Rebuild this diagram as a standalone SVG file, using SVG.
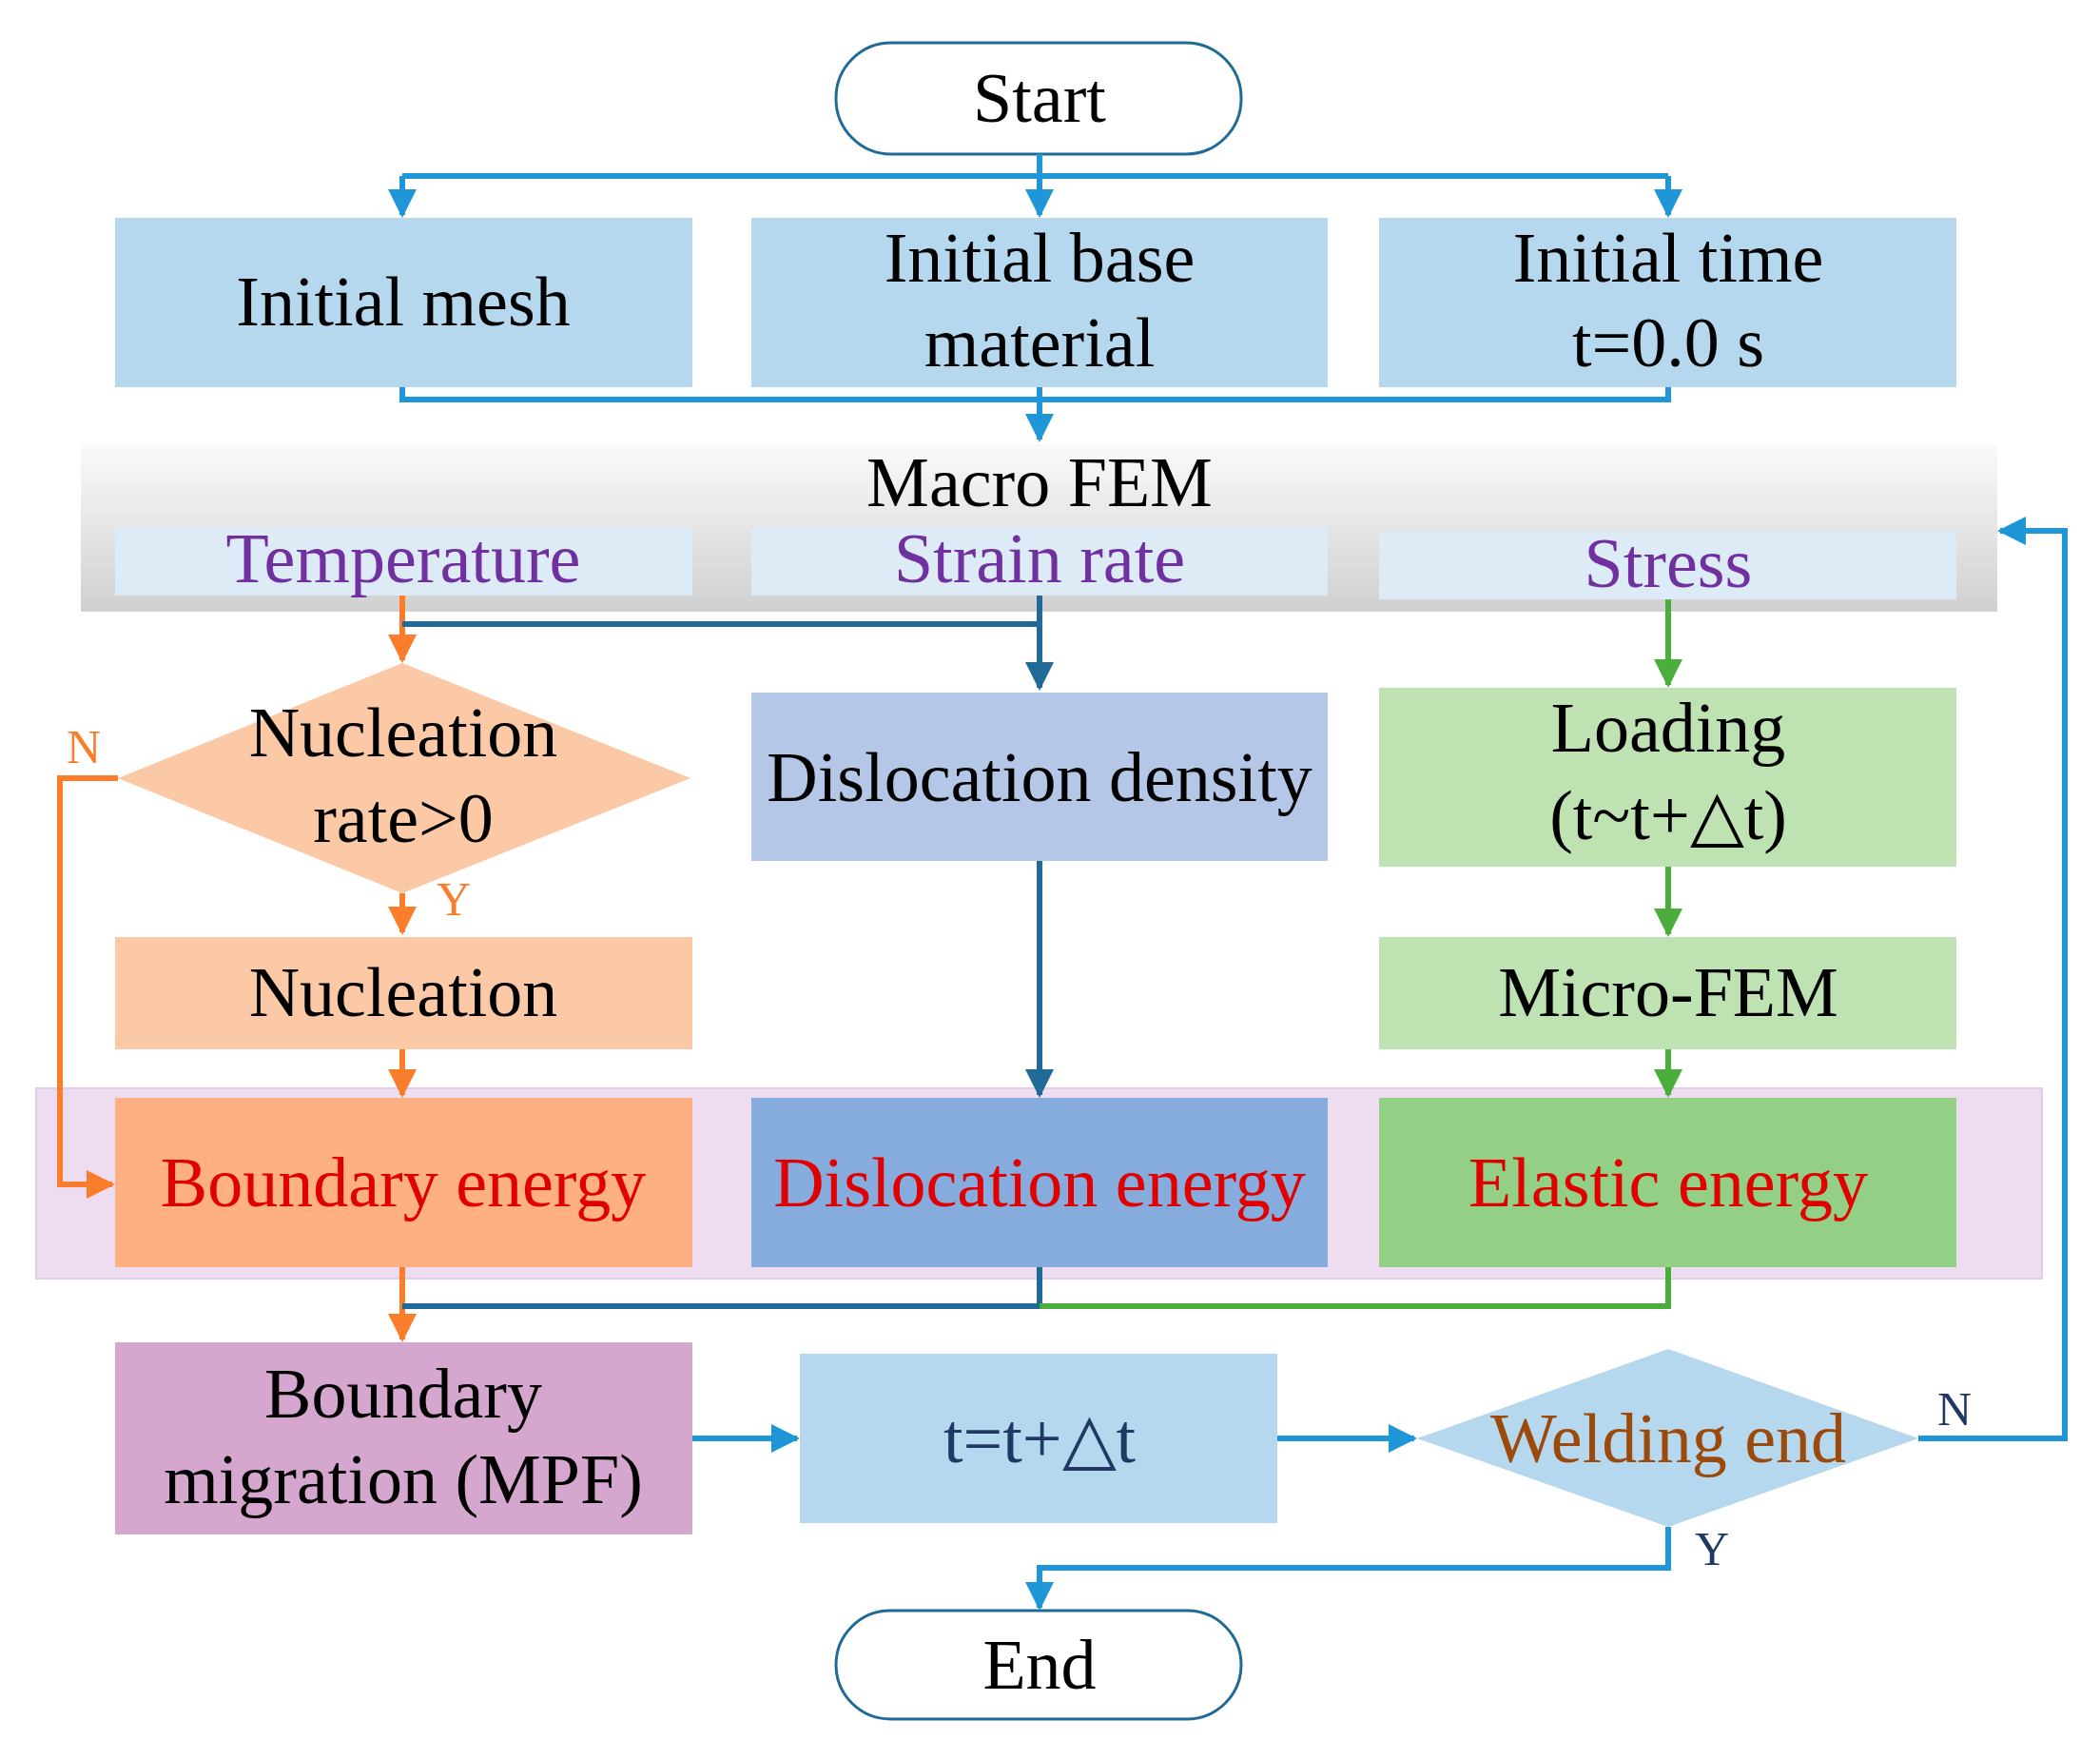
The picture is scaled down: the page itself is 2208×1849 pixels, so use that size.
<svg xmlns="http://www.w3.org/2000/svg" width="2208" height="1849" viewBox="0 0 2208 1849">
<style>
text{font-family:"Liberation Serif",serif;font-size:74px;text-anchor:middle;fill:#000}
.b{stroke:#1E96D8;stroke-width:6;fill:none}
.d{stroke:#1F6A96;stroke-width:6;fill:none}
.o{stroke:#F97D2A;stroke-width:6;fill:none}
.g{stroke:#4BAE3C;stroke-width:6;fill:none}
.lb{fill:#B5D8EE}
text.p{fill:#7030A0}
text.r{fill:#E00000}
text.n{fill:#1F3864}
text.w{fill:#9C4A0C}
text.lo{fill:#F97D2A;font-size:50px}
text.ln{fill:#1F3864;font-size:50px}
</style>
<defs>
<marker id="ab" viewBox="0 0 10 10" refX="9" refY="5" markerWidth="5" markerHeight="5" orient="auto"><path d="M0 0L10 5L0 10z" fill="#1E96D8"/></marker>
<marker id="ad" viewBox="0 0 10 10" refX="9" refY="5" markerWidth="5" markerHeight="5" orient="auto"><path d="M0 0L10 5L0 10z" fill="#1F6A96"/></marker>
<marker id="ao" viewBox="0 0 10 10" refX="9" refY="5" markerWidth="5" markerHeight="5" orient="auto"><path d="M0 0L10 5L0 10z" fill="#F97D2A"/></marker>
<marker id="ag" viewBox="0 0 10 10" refX="9" refY="5" markerWidth="5" markerHeight="5" orient="auto"><path d="M0 0L10 5L0 10z" fill="#4BAE3C"/></marker>
<linearGradient id="gr" x1="0" y1="0" x2="0" y2="1"><stop offset="0" stop-color="#FAFAFA"/><stop offset="1" stop-color="#D0D0D0"/></linearGradient>
</defs>
<rect width="2208" height="1849" fill="#fff"/>
<g id="macro"><rect x="85" y="467" width="2015" height="176" fill="url(#gr)"/><text x="1093" y="532">Macro FEM</text></g>
<g id="energyPanel"><rect x="38" y="1144" width="2109" height="200" fill="#EEDDF0" stroke="#E0CCE6" stroke-width="2"/></g>
<g id="start"><rect x="879" y="45" width="426" height="117" rx="58" fill="#fff" stroke="#1F6A96" stroke-width="3"/><text x="1093" y="128">Start</text></g>
<g id="mesh"><rect class="lb" x="121" y="229" width="607" height="178"/><text x="424" y="342">Initial mesh</text></g>
<g id="base"><rect class="lb" x="790" y="229" width="606" height="178"/><text x="1093" y="296">Initial base</text><text x="1093" y="385">material</text></g>
<g id="time"><rect class="lb" x="1450" y="229" width="607" height="178"/><text x="1754" y="296">Initial time</text><text x="1754" y="385">t=0.0 s</text></g>
<g id="temp"><rect x="121" y="555" width="607" height="71" fill="#DDEBF7"/><text class="p" x="424" y="612">Temperature</text></g>
<g id="strain"><rect x="790" y="555" width="606" height="71" fill="#DDEBF7"/><text class="p" x="1093" y="612">Strain rate</text></g>
<g id="stress"><rect x="1450" y="558" width="607" height="72" fill="#DDEBF7"/><text class="p" x="1754" y="617">Stress</text></g>
<g id="nucdec"><polygon points="423,697 726,818 423,939 124,818" fill="#FCC9A6"/><text x="424" y="795">Nucleation</text><text x="424" y="885">rate&gt;0</text></g>
<g id="disden"><rect x="790" y="728" width="606" height="177" fill="#B4C7E7"/><text x="1093" y="842">Dislocation density</text></g>
<g id="loading"><rect x="1450" y="723" width="607" height="188" fill="#BEE2B2"/><text x="1754" y="790">Loading</text><text x="1754" y="882">(t~t+△t)</text></g>
<g id="nucleation"><rect x="121" y="985" width="607" height="118" fill="#FCC9A6"/><text x="424" y="1068">Nucleation</text></g>
<g id="microfem"><rect x="1450" y="985" width="607" height="118" fill="#BEE2B2"/><text x="1754" y="1068">Micro-FEM</text></g>
<g id="be"><rect x="121" y="1154" width="607" height="178" fill="#FFB083"/><text class="r" x="424" y="1268">Boundary energy</text></g>
<g id="de"><rect x="790" y="1154" width="606" height="178" fill="#86ACDD"/><text class="r" x="1093" y="1268">Dislocation energy</text></g>
<g id="ee"><rect x="1450" y="1154" width="607" height="178" fill="#93D086"/><text class="r" x="1754" y="1268">Elastic energy</text></g>
<g id="bm"><rect x="121" y="1411" width="607" height="202" fill="#D5A6CE"/><text x="424" y="1490">Boundary</text><text x="424" y="1580">migration (MPF)</text></g>
<g id="tstep"><rect class="lb" x="841" y="1423" width="502" height="178"/><text class="n" x="1093" y="1537">t=t+△t</text></g>
<g id="weld"><polygon points="1754,1418 2017,1512 1754,1605 1490,1512" fill="#B5D8EE"/><text class="w" x="1754" y="1537">Welding end</text></g>
<g id="end"><rect x="879" y="1693" width="426" height="114" rx="57" fill="#fff" stroke="#1F6A96" stroke-width="3"/><text x="1093" y="1775">End</text></g>
<g id="connectors">
<path class="b" d="M423 185H1754"/><path class="b" d="M423 185V226" marker-end="url(#ab)"/><path class="b" d="M1093 162V226" marker-end="url(#ab)"/><path class="b" d="M1754 185V226" marker-end="url(#ab)"/>
<path class="b" d="M423 407V420H1754V407"/><path class="b" d="M1093 407V462" marker-end="url(#ab)"/>
<path class="o" d="M423 626V694" marker-end="url(#ao)"/>
<path class="d" d="M423 656H1093"/><path class="d" d="M1093 626V723" marker-end="url(#ad)"/>
<path class="g" d="M1754 630V720" marker-end="url(#ag)"/>
<path class="o" d="M423 939V980" marker-end="url(#ao)"/>
<path class="o" d="M124 818H63V1245H118" marker-end="url(#ao)"/>
<path class="o" d="M423 1103V1151" marker-end="url(#ao)"/>
<path class="d" d="M1093 905V1151" marker-end="url(#ad)"/>
<path class="g" d="M1754 911V982" marker-end="url(#ag)"/>
<path class="g" d="M1754 1103V1151" marker-end="url(#ag)"/>
<path class="o" d="M423 1332V1408" marker-end="url(#ao)"/>
<path class="d" d="M1093 1332V1373H423"/>
<path class="g" d="M1754 1332V1373H1093"/>
<path class="b" d="M728 1512H838" marker-end="url(#ab)"/>
<path class="b" d="M1343 1512H1487" marker-end="url(#ab)"/>
<path class="b" d="M2017 1512H2171V558H2103" marker-end="url(#ab)"/>
<path class="b" d="M1754 1605V1648H1093V1690" marker-end="url(#ab)"/>
<text class="lo" x="88" y="802">N</text>
<text class="lo" x="477" y="962">Y</text>
<text class="ln" x="2055" y="1498">N</text>
<text class="ln" x="1800" y="1645">Y</text>
</g>
</svg>
